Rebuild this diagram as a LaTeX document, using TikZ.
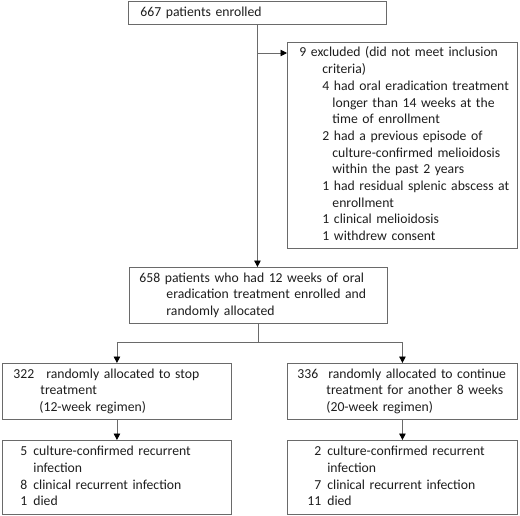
\documentclass[tikz,border=0pt]{standalone}
\usepackage{fontspec}
\setmainfont{Carlito}
\usetikzlibrary{arrows.meta}
\definecolor{linegray}{HTML}{6A6A6A}
\definecolor{textgray}{HTML}{1E1E1E}
\begin{document}
\begin{tikzpicture}[x=1pt,y=-1pt,
  box/.style={draw=linegray, line width=0.9pt, anchor=north west, inner sep=0pt,
    align=left, text=textgray, font=\fontsize{13.7}{16.7}\selectfont},
  conn/.style={draw=linegray, line width=0.9pt},
  arr/.style={conn, -{Triangle[length=6.5pt,width=6.5pt,fill=black,color=black]}}]
\useasboundingbox (0,0) rectangle (520,515);
\fill[white] (0,0) rectangle (520,515);

\node[box, minimum width=258pt, minimum height=23pt, text width=234pt] (b1) at (128,1)
  {667 patients enrolled};

\node[box, minimum width=230pt, minimum height=206pt, text width=206pt] (ex) at (287,42)
  {\begin{tabular}{@{}l@{}}
  9 excluded (did not meet inclusion\\
  \hspace*{23pt}criteria)\\
  \hspace*{23pt}4 had oral eradication treatment\\
  \hspace*{33pt}longer than 14 weeks at the\\
  \hspace*{33pt}time of enrollment\\
  \hspace*{23pt}2 had a previous episode of\\
  \hspace*{33pt}culture-confirmed melioidosis\\
  \hspace*{33pt}within the past 2 years\\
  \hspace*{23pt}1 had residual splenic abscess at\\
  \hspace*{33pt}enrollment\\
  \hspace*{23pt}1 clinical melioidosis\\
  \hspace*{23pt}1 withdrew consent
  \end{tabular}};

\node[box, minimum width=258pt, minimum height=56pt, text width=238pt] (b2) at (129,267)
  {\begin{tabular}{@{}l@{}}
  658 patients who had 12 weeks of oral\\
  \hspace*{27pt}eradication treatment enrolled and\\
  \hspace*{27pt}randomly allocated
  \end{tabular}};

\node[box, minimum width=229pt, minimum height=56pt, text width=207pt] (l2) at (2,363)
  {\begin{tabular}{@{}l@{}}
  322\hspace{12pt}randomly allocated to stop\\
  \hspace*{27pt}treatment\\
  \hspace*{26pt}(12-week regimen)
  \end{tabular}};

\node[box, minimum width=230pt, minimum height=56pt, text width=210pt] (r2) at (287,363)
  {\begin{tabular}{@{}l@{}}
  336\hspace{10pt}randomly allocated to continue\\
  \hspace*{29pt}treatment for another 8 weeks\\
  \hspace*{29pt}(20-week regimen)
  \end{tabular}};

\node[box, minimum width=229pt, minimum height=74pt, text width=193pt] (l3) at (2,440)
  {\begin{tabular}{@{}r@{\hspace{6pt}}l@{}}
  5 & culture-confirmed recurrent\\
    & infection\\
  8 & clinical recurrent infection\\
  1 & died
  \end{tabular}};

\node[box, minimum width=230pt, minimum height=74pt, text width=190pt] (r3) at (287,440)
  {\begin{tabular}{@{}r@{\hspace{6pt}}l@{}}
  2 & culture-confirmed recurrent\\
    & infection\\
  7 & clinical recurrent infection\\
  11 & died
  \end{tabular}};

\coordinate (j2) at (b2.south |- 0,342);
\coordinate (j0) at (b1.south |- 0,53);

\draw[arr] (b1.south) -- (b1.south |- b2.north);
\draw[arr] (j0) -- (ex.west |- j0);
\draw[conn] (b2.south) -- (j2);
\draw[conn] (l2.north |- j2) -- (r2.north |- j2);
\draw[arr] (l2.north |- j2) -- (l2.north);
\draw[arr] (r2.north |- j2) -- (r2.north);
\draw[arr] (l2.south) -- (l3.north);
\draw[arr] (r2.south) -- (r3.north);
\end{tikzpicture}
\end{document}
